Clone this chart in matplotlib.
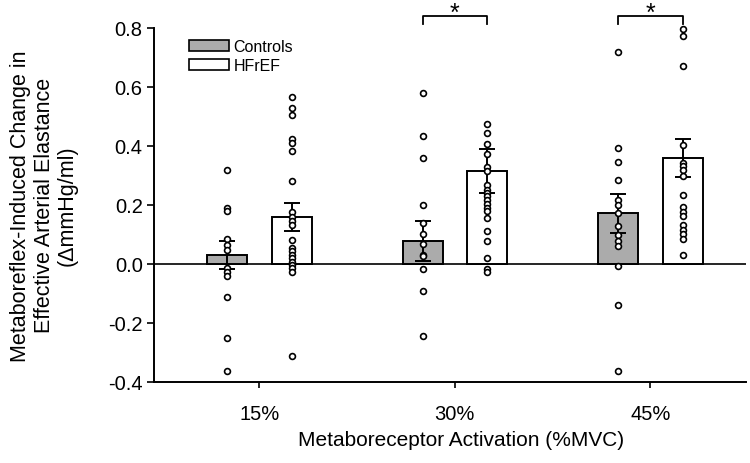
import numpy as np
import matplotlib
matplotlib.use('Agg')
from matplotlib import pyplot as plt
from matplotlib.patches import Patch

plt.rcParams['font.family'] = ['Liberation Sans', 'DejaVu Sans']

# data
groups = ['15%', '30%', '45%']
ctrl_mean = [0.030, 0.078, 0.172]
ctrl_sem = [0.048, 0.067, 0.066]
hf_mean = [0.159, 0.314, 0.358]
hf_sem = [0.046, 0.075, 0.065]

ctrl_15 = [0.320, 0.188, 0.180, 0.085, 0.065, 0.047, -0.015, -0.028, -0.042, -0.113, -0.253, -0.365]
ctrl_30 = [0.580, 0.435, 0.358, 0.200, 0.137, 0.102, 0.069, 0.031, 0.025, -0.017, -0.092, -0.246]
ctrl_45 = [0.720, 0.392, 0.346, 0.284, 0.215, 0.198, 0.173, 0.130, 0.098, 0.079, 0.062,
           -0.008, -0.140, -0.362]

hf_15 = [0.567, 0.530, 0.506, 0.424, 0.409, 0.383, 0.281, 0.175, 0.160, 0.147, 0.133,
         0.082, 0.053, 0.042, 0.031, 0.019, 0.008, -0.003, -0.015, -0.026, -0.314]
hf_30 = [0.475, 0.443, 0.408, 0.372, 0.327, 0.315, 0.268, 0.252, 0.241, 0.229, 0.218,
         0.204, 0.191, 0.180, 0.157, 0.112, 0.076, 0.019, -0.017, -0.028]
hf_45 = [0.797, 0.774, 0.672, 0.403, 0.342, 0.331, 0.320, 0.297, 0.235, 0.192, 0.177,
         0.162, 0.132, 0.116, 0.102, 0.085, 0.031]

ctrl_pts = [ctrl_15, ctrl_30, ctrl_45]
hf_pts = [hf_15, hf_30, hf_45]
sig_groups = [1, 2]

fig = plt.figure(figsize=(7.5, 4.64), dpi=100)
ax = fig.add_axes([0.205, 0.175, 0.79, 0.7625])

x = np.arange(len(groups))
off = 0.165
w = 0.205
gray = '#ababab'

ax.axhline(0, color='black', lw=1.2, zorder=1)
ax.bar(x - off, ctrl_mean, w, color=gray, edgecolor='black', lw=1.4, zorder=2)
ax.bar(x + off, hf_mean, w, color='white', edgecolor='black', lw=1.4, zorder=2)
ax.errorbar(x - off, ctrl_mean, yerr=ctrl_sem, fmt='none', ecolor='black',
            elinewidth=1.4, capsize=6, capthick=1.4, zorder=3)
ax.errorbar(x + off, hf_mean, yerr=hf_sem, fmt='none', ecolor='black',
            elinewidth=1.4, capsize=6, capthick=1.4, zorder=3)

for i in range(len(groups)):
    for xc, pts in [(x[i] - off, ctrl_pts[i]), (x[i] + off, hf_pts[i])]:
        ax.plot([xc] * len(pts), pts, 'o', ms=4.2, mfc='white', mec='black',
                mew=1.2, zorder=4, clip_on=False)

# significance brackets
for i in sig_groups:
    x1, x2 = x[i] - off, x[i] + off
    ax.plot([x1, x1, x2, x2], [0.813, 0.84, 0.84, 0.813], color='black',
            lw=1.3, clip_on=False)
    ax.text((x1 + x2) / 2, 0.852, '*', ha='center', va='center', fontsize=18)

ax.set_xlim(-0.54, 2.49)
ax.set_ylim(-0.4, 0.8)
ax.set_yticks(np.arange(-0.4, 0.81, 0.2))
ax.set_yticklabels(['%.1f' % v for v in np.arange(-0.4, 0.81, 0.2)])
ax.set_xticks(x)
ax.set_xticklabels(groups)
ax.tick_params(axis='both', labelsize=14.5, direction='out', width=1.2)
ax.tick_params(axis='y', length=5, pad=3)
ax.tick_params(axis='x', length=4, pad=12)

for s in ['top', 'right']:
    ax.spines[s].set_visible(False)
for s in ['left', 'bottom']:
    ax.spines[s].set_linewidth(1.4)

ax.set_xlabel('Metaboreceptor Activation (%MVC)', fontsize=15)
ax.xaxis.set_label_coords(0.519, -0.135)
ax.set_ylabel('Metaboreflex-Induced Change in\nEffective Arterial Elastance\n(\u0394mmHg/ml)',
              fontsize=15.5, linespacing=1.15)
ax.yaxis.set_label_coords(-0.128, 0.5)

handles = [Patch(facecolor=gray, edgecolor='black', lw=1.2, label='Controls'),
           Patch(facecolor='white', edgecolor='black', lw=1.2, label='HFrEF')]
ax.legend(handles=handles, loc='upper left', bbox_to_anchor=(0.04, 1.0), frameon=False,
          fontsize=11.5, handlelength=2.5, handleheight=0.75, labelspacing=0.25,
          handletextpad=0.3, borderaxespad=0.3)

fig.savefig('out.png', dpi=100)
